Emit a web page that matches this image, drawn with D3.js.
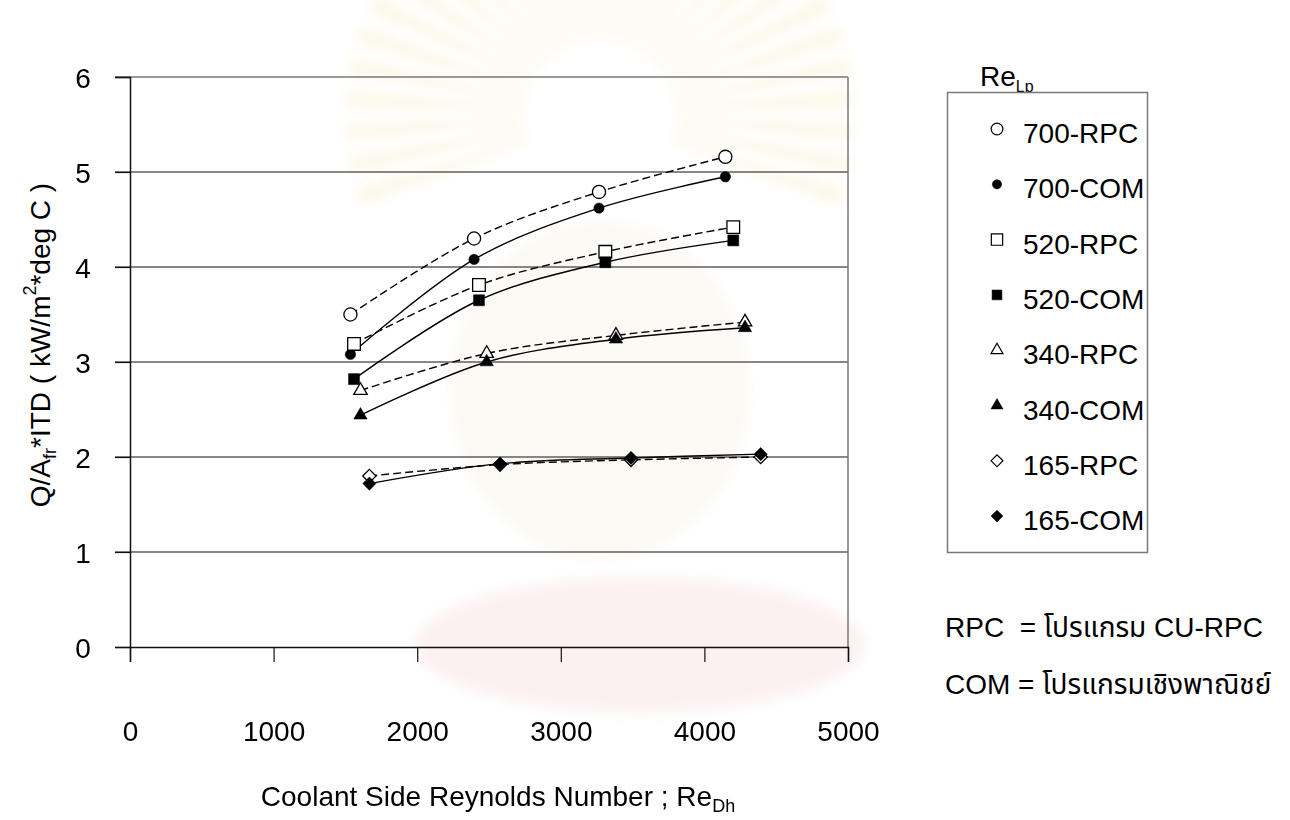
<!DOCTYPE html>
<html>
<head>
<meta charset="utf-8">
<script src="https://cdn.jsdelivr.net/npm/d3@7"></script>
<style>
  html, body { margin: 0; padding: 0; background: #fff; }
  svg { display: block; }
  text { font-family: Arial, "Liberation Sans", "Noto Sans Thai", "Noto Sans", sans-serif; fill: #000; }
</style>
</head>
<body>
<svg id="chart" width="1290" height="820"></svg>
<script>
// Coolant side Reynolds number (Re_Dh) of each operating point, per louver Reynolds number Re_Lp
const reDh700 = [1535, 2396, 3266, 4146];
const reDh520 = [1560, 2430, 3310, 4201];
const reDh340 = [1605, 2484, 3384, 4283];
const reDh165 = [1667, 2577, 3489, 4392];

// Q/Afr*ITD (kW/m2*deg C): CU-RPC program (RPC) and commercial program (COM)
const rpc700 = [3.50, 4.30, 4.79, 5.16];
const com700 = [3.08, 4.08, 4.62, 4.95];
const rpc520 = [3.19, 3.81, 4.16, 4.42];
const com520 = [2.82, 3.65, 4.05, 4.28];
const rpc340 = [2.70, 3.09, 3.28, 3.42];
const com340 = [2.44, 3.00, 3.24, 3.36];
const rpc165 = [1.80, 1.92, 1.97, 2.00];
const com165 = [1.72, 1.93, 1.99, 2.03];

const seriesNames = ["700-RPC", "700-COM", "520-RPC", "520-COM", "340-RPC", "340-COM", "165-RPC", "165-COM"];
const xTicks = [0, 1000, 2000, 3000, 4000, 5000];
const yTicks = [0, 1, 2, 3, 4, 5, 6];

const svg = d3.select("#chart");

// ---- faint emblem behind the figure ----
const defs = svg.append("defs");
defs.append("filter").attr("id", "soft").attr("x", "-30%").attr("y", "-30%").attr("width", "160%").attr("height", "160%")
  .append("feGaussianBlur").attr("stdDeviation", 6);
const emblem = svg.append("g").attr("filter", "url(#soft)");
const rayArc = d3.arc().innerRadius(75).outerRadius(255);
const rayCount = 30;
for (let i = 0; i < rayCount; i++) {
  const a = -1.9 + (3.8 * i) / (rayCount - 1);
  emblem.append("path")
    .attr("transform", "translate(600,115)")
    .attr("d", rayArc({ startAngle: a - 0.035, endAngle: a + 0.035 }))
    .attr("fill", "#f3e4b0").attr("opacity", 0.27);
}
emblem.append("ellipse").attr("cx", 600).attr("cy", 390).attr("rx", 150).attr("ry", 170)
  .attr("fill", "#efe4c2").attr("opacity", 0.18);
emblem.append("ellipse").attr("cx", 640).attr("cy", 645).attr("rx", 225).attr("ry", 68)
  .attr("fill", "#f2c9c9").attr("opacity", 0.26);

// ---- plot area ----
const plotLeft = 130, plotRight = 848, plotTop = 77, plotBottom = 647;
const x = d3.scaleLinear().domain([0, 5000]).range([plotLeft, plotRight]);
const y = d3.scaleLinear().domain([0, 6]).range([plotBottom, plotTop]);

// horizontal gridlines (extend left as tick marks)
svg.append("g").selectAll("line").data(yTicks.filter(v => v > 0 && v < 6)).join("line")
  .attr("x1", plotLeft - 15).attr("x2", plotRight)
  .attr("y1", d => y(d)).attr("y2", d => y(d))
  .attr("stroke", "#111").attr("stroke-width", 1.2);

// frame: grey top and right edges
svg.append("line").attr("x1", plotLeft - 15).attr("x2", plotRight).attr("y1", y(6)).attr("y2", y(6))
  .attr("stroke", "#777").attr("stroke-width", 1.5);
svg.append("line").attr("x1", plotRight).attr("x2", plotRight).attr("y1", y(6)).attr("y2", y(0))
  .attr("stroke", "#777").attr("stroke-width", 1.5);

// y axis
const yAxis = d3.axisLeft(y).tickValues(yTicks).tickSize(15).tickFormat(d3.format("d"));
const gy = svg.append("g").attr("transform", `translate(${plotLeft},0)`).call(yAxis);
gy.select(".domain").attr("stroke", "#111").attr("stroke-width", 1.5);
gy.selectAll(".tick line").attr("stroke", "#111").attr("stroke-width", 1.2);
gy.selectAll(".tick text").attr("x", -47).attr("dy", "0.36em").attr("text-anchor", "middle")
  .style("font-size", "28px").attr("fill", "#222");

// x axis
const xAxis = d3.axisBottom(x).tickValues(xTicks).tickSize(15).tickFormat(d3.format("d"));
const gx = svg.append("g").attr("transform", `translate(0,${plotBottom})`).call(xAxis);
gx.select(".domain").attr("stroke", "#111").attr("stroke-width", 1.5);
gx.selectAll(".tick line").attr("stroke", "#111").attr("stroke-width", 1.2);
gx.selectAll(".tick text").attr("y", 94).attr("dy", 0).style("font-size", "28px").attr("fill", "#222");

// axis titles
const yt = svg.append("text").attr("transform", "translate(50,345) rotate(-90)")
  .attr("text-anchor", "middle").style("font-size", "28px");
yt.append("tspan").text("Q/A");
yt.append("tspan").text("fr").style("font-size", "18px").attr("dy", 6);
yt.append("tspan").text("*ITD ( kW/m").attr("dy", -6);
yt.append("tspan").text("2").style("font-size", "18px").attr("dy", -14);
yt.append("tspan").text("*deg C )").attr("dy", 14);

const xt = svg.append("text").attr("x", 498).attr("y", 806).attr("text-anchor", "middle").style("font-size", "28px");
xt.append("tspan").text("Coolant Side Reynolds Number ; Re");
xt.append("tspan").text("Dh").style("font-size", "18px").attr("dy", 6);

// ---- series ----
const groups = [
  { xs: reDh700, rpc: rpc700, com: com700, shape: d3.symbolCircle },
  { xs: reDh520, rpc: rpc520, com: com520, shape: d3.symbolSquare },
  { xs: reDh340, rpc: rpc340, com: com340, shape: d3.symbolTriangle },
  { xs: reDh165, rpc: rpc165, com: com165, shape: "diamond" }
];
const series = [];
groups.forEach((g, i) => {
  series.push({ name: seriesNames[2 * i], xs: g.xs, ys: g.rpc, shape: g.shape, filled: false });
  series.push({ name: seriesNames[2 * i + 1], xs: g.xs, ys: g.com, shape: g.shape, filled: true });
});

function markerPath(shape, filled, scale) {
  const k = scale || 1;
  if (shape === d3.symbolCircle) return d3.symbol(shape, (filled ? 85 : 135) * k)();
  if (shape === d3.symbolSquare) return d3.symbol(shape, (filled ? 121 : 160) * k)();
  if (shape === d3.symbolTriangle) return d3.symbol(shape, 78 * k)();
  return d3.symbol(d3.symbolSquare, 88 * k)();
}
function markerRotate(shape) { return shape === "diamond" ? "rotate(45)" : ""; }

const line = d3.line().x(d => x(d[0])).y(d => y(d[1])).curve(d3.curveCatmullRom.alpha(0.5));
const plot = svg.append("g");
series.forEach(s => {
  const pts = s.xs.map((v, i) => [v, s.ys[i]]);
  plot.append("path").attr("d", line(pts)).attr("fill", "none")
    .attr("stroke", "#000").attr("stroke-width", 1.4)
    .attr("stroke-dasharray", s.filled ? null : "8,4");
});
series.forEach(s => {
  const pts = s.xs.map((v, i) => [v, s.ys[i]]);
  plot.append("g").selectAll("path").data(pts).join("path")
    .attr("transform", d => `translate(${x(d[0])},${y(d[1])}) ${markerRotate(s.shape)}`)
    .attr("d", markerPath(s.shape, s.filled))
    .attr("fill", s.filled ? "#000" : "#fff")
    .attr("stroke", "#000").attr("stroke-width", s.filled ? 0.5 : 1.3);
});

// ---- legend ----
const lgTitle = svg.append("text").attr("x", 980).attr("y", 86).style("font-size", "28px");
lgTitle.append("tspan").text("Re");
lgTitle.append("tspan").text("Lp").style("font-size", "16px").attr("dy", 6);

svg.append("rect").attr("x", 947.5).attr("y", 92.5).attr("width", 200).attr("height", 460)
  .attr("fill", "#fff").attr("stroke", "#777").attr("stroke-width", 1.5);
const lg = svg.append("g").selectAll("g").data(series).join("g")
  .attr("transform", (d, i) => `translate(997,${129 + i * 55.3})`);
lg.append("path")
  .attr("transform", d => markerRotate(d.shape))
  .attr("d", d => markerPath(d.shape, d.filled, 0.8))
  .attr("fill", d => d.filled ? "#000" : "#fff")
  .attr("stroke", "#000").attr("stroke-width", d => d.filled ? 0.5 : 1.2);
lg.append("text").attr("x", 26).attr("y", 14).style("font-size", "28px").attr("fill", "#222").text(d => d.name);

// ---- notes ----
svg.append("text").attr("x", 945).attr("y", 637).style("font-size", "28px").attr("fill", "#222")
  .style("white-space", "pre").text("RPC  = โปรแกรม CU-RPC");
svg.append("text").attr("x", 945).attr("y", 694).style("font-size", "28px").attr("fill", "#222")
  .text("COM = โปรแกรมเชิงพาณิชย์");
</script>
</body>
</html>
